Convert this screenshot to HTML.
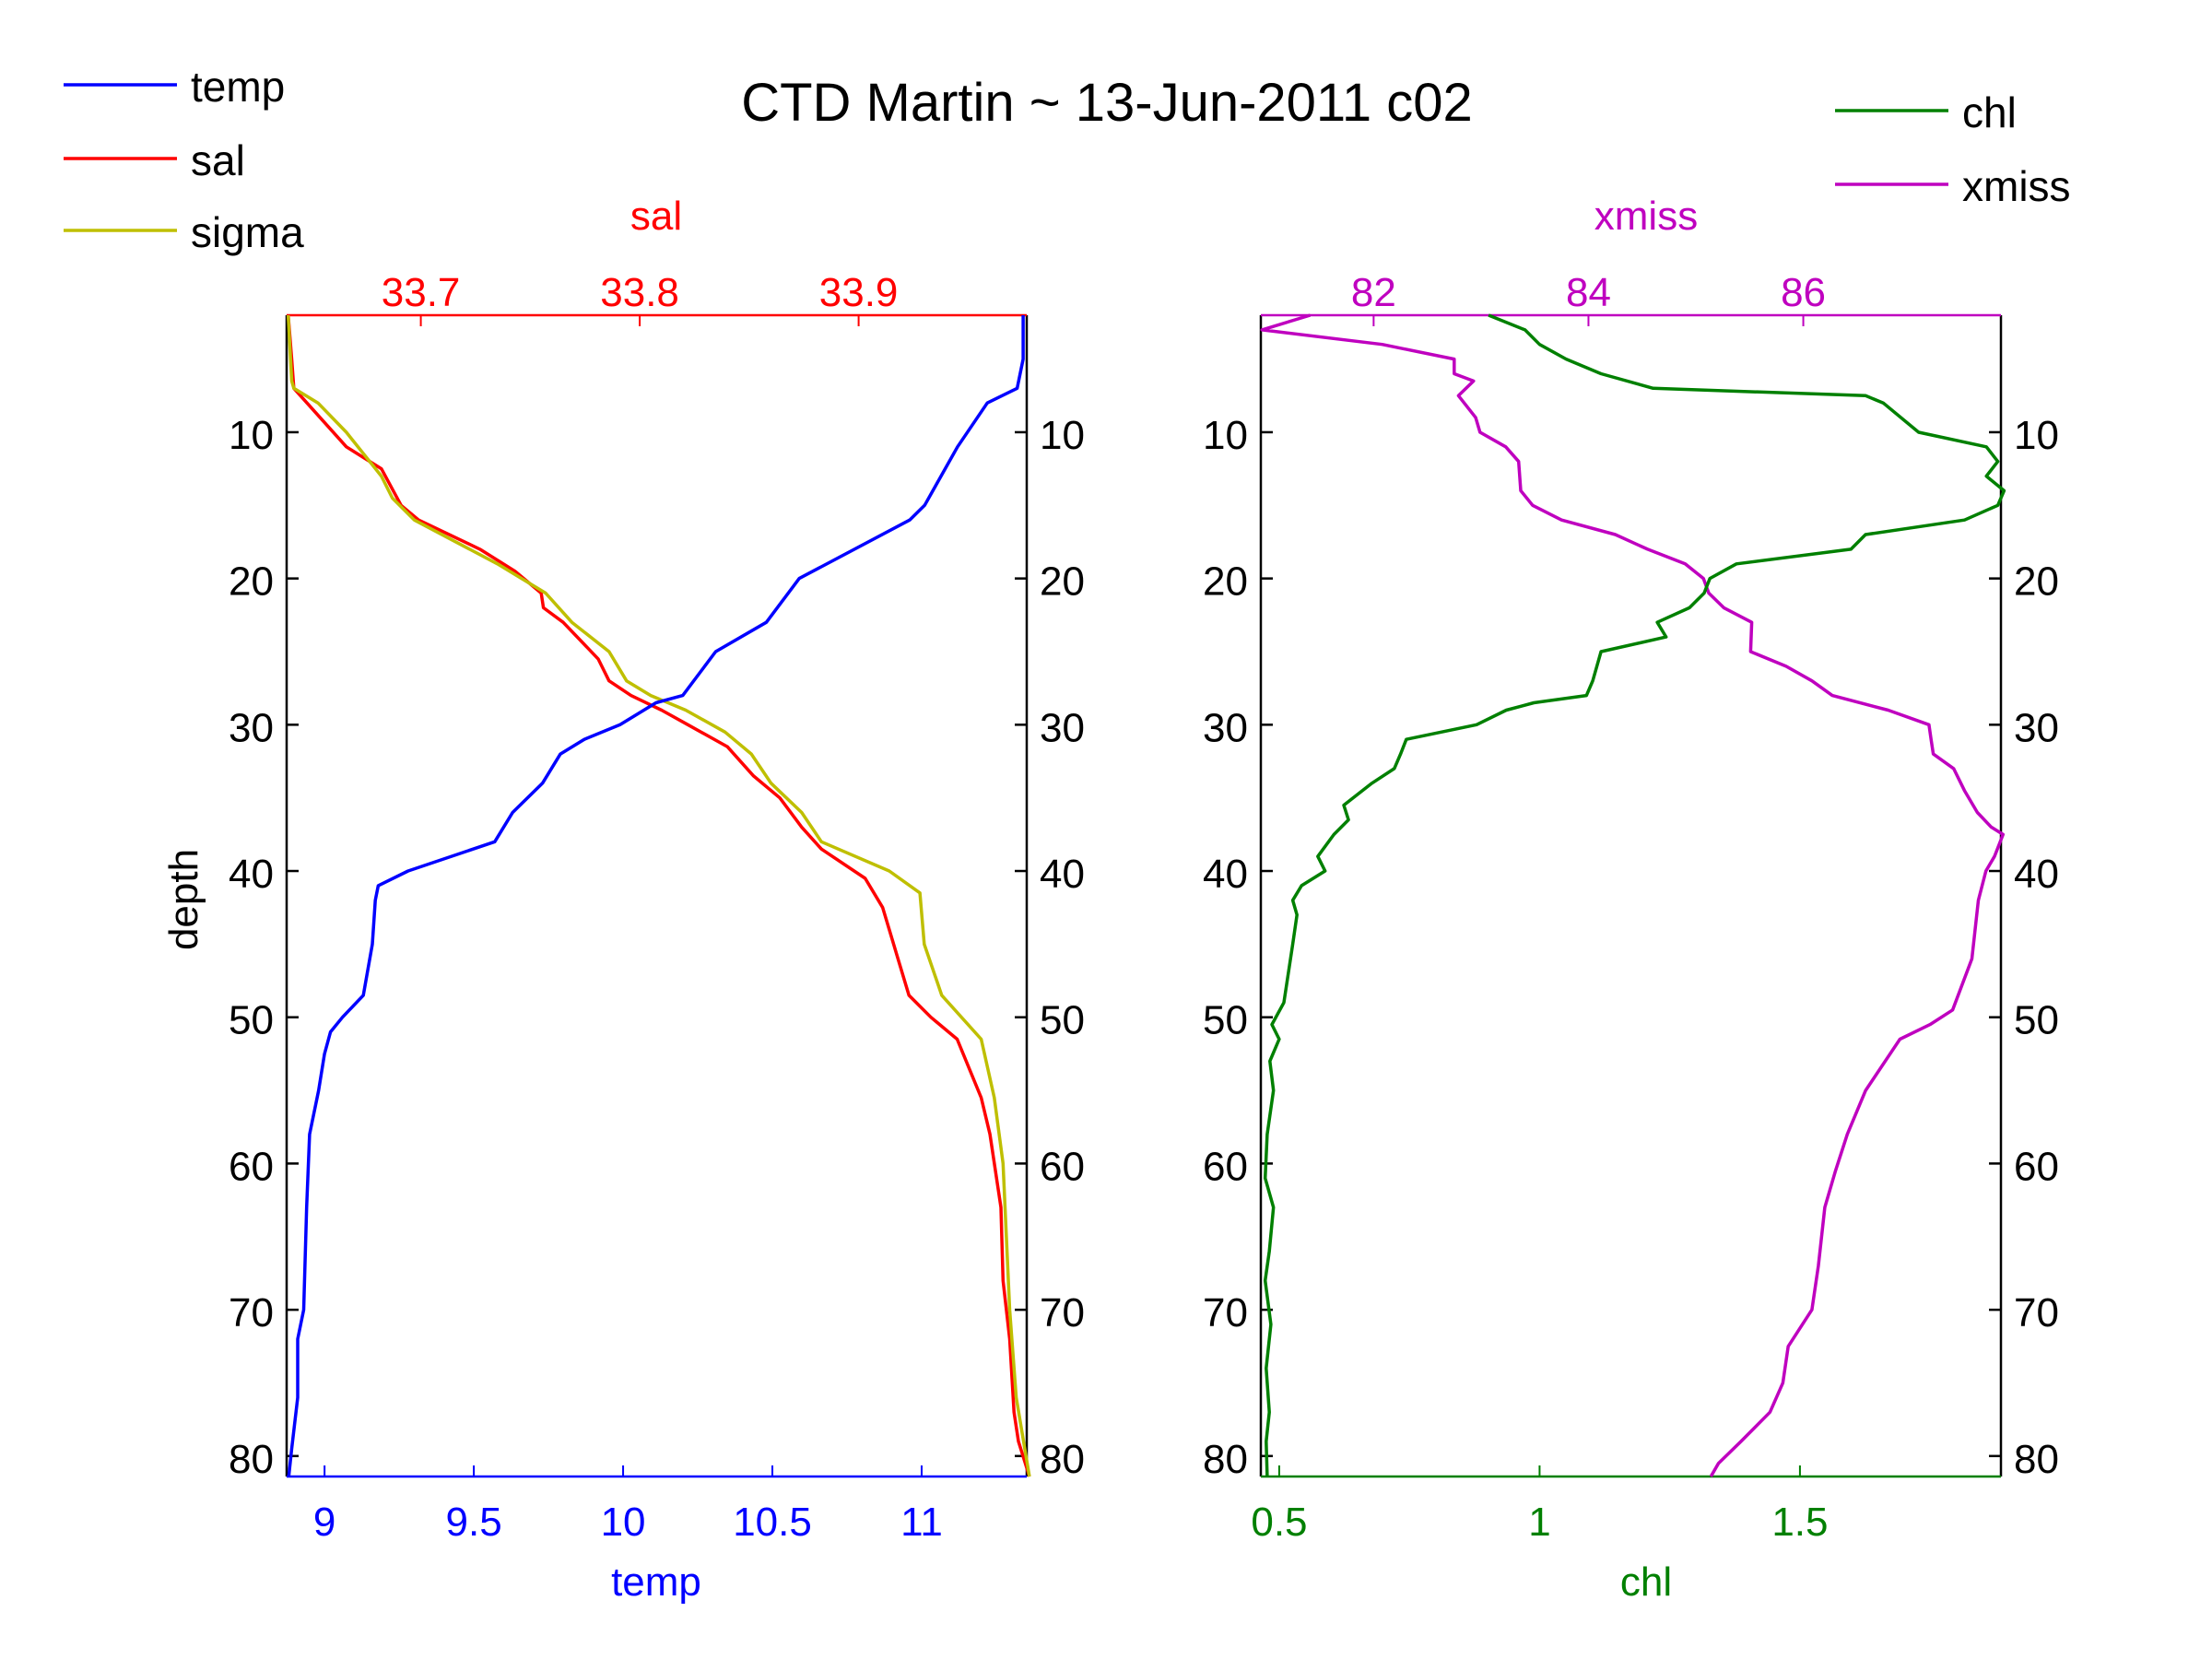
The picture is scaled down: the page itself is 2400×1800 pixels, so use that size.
<!DOCTYPE html>
<html><head><meta charset="utf-8"><style>
html,body{margin:0;padding:0;background:#fff}
svg{display:block;font-family:"Liberation Sans",Arial,sans-serif}
</style></head><body>
<svg id="chart" width="2400" height="1800" viewBox="0 0 2400 1800" xmlns="http://www.w3.org/2000/svg">
<rect width="2400" height="1800" fill="#fff"/>
<text x="1201" y="131" font-size="58" text-anchor="middle">CTD Martin ~ 13-Jun-2011 c02</text>
<g id="legend-left">
<line x1="69" y1="92" x2="192" y2="92" stroke="#0000ff" stroke-width="3.5"/>
<text x="207" y="110" font-size="46">temp</text>
<line x1="69" y1="172" x2="192" y2="172" stroke="#ff0000" stroke-width="3.5"/>
<text x="207" y="190" font-size="46">sal</text>
<line x1="69" y1="250" x2="192" y2="250" stroke="#bfbf00" stroke-width="3.5"/>
<text x="207" y="268" font-size="46">sigma</text>
</g>
<g id="legend-right">
<line x1="1991" y1="120" x2="2114" y2="120" stroke="#008000" stroke-width="3.5"/>
<text x="2129" y="138" font-size="46">chl</text>
<line x1="1991" y1="200" x2="2114" y2="200" stroke="#bf00bf" stroke-width="3.5"/>
<text x="2129" y="218" font-size="46">xmiss</text>
</g>
<text transform="translate(214,976) rotate(-90)" font-size="44" text-anchor="middle">depth</text>
<text x="712" y="249" font-size="44" text-anchor="middle" fill="#ff0000">sal</text>
<text x="1786" y="249" font-size="44" text-anchor="middle" fill="#bf00bf">xmiss</text>
<text x="712" y="1731" font-size="44" text-anchor="middle" fill="#0000ff">temp</text>
<text x="1786" y="1731" font-size="44" text-anchor="middle" fill="#008000">chl</text>
<g id="plots"></g>
</svg>
<script>
// shared depth axis
const depthDomain = [2, 81.4];
const depthTicks = [10, 20, 30, 40, 50, 60, 70, 80];
// left panel axes
const tempDomain = [8.873, 11.352];
const tempTicks = [9, 9.5, 10, 10.5, 11];
const tempTickLabels = ["9", "9.5", "10", "10.5", "11"];
const salDomain = [33.6387, 33.9768];
const salTicks = [33.7, 33.8, 33.9];
const salTickLabels = ["33.7", "33.8", "33.9"];
// right panel axes
const chlDomain = [0.4647, 1.886];
const chlTicks = [0.5, 1, 1.5];
const chlTickLabels = ["0.5", "1", "1.5"];
const xmissDomain = [80.95, 87.84];
const xmissTicks = [82, 84, 86];
const xmissTickLabels = ["82", "84", "86"];

// series
const tempDepth = [2,5,7,8,11,15,16,20,23,25,28,28.5,30,31,32,34,36,38,40,41,42,45,48.5,50,51,52.5,55,58,63,70,72,76,79.5,81.4];
const tempValues = [11.34,11.34,11.32,11.22,11.12,11.01,10.96,10.59,10.48,10.31,10.20,10.11,9.99,9.87,9.79,9.73,9.63,9.57,9.28,9.18,9.17,9.16,9.13,9.06,9.02,9.00,8.98,8.95,8.94,8.93,8.91,8.91,8.89,8.88];
const salDepth = [2,5,7,9,11,12.5,15,16,18,19.5,21,22,23,25.5,27,28,29,30,31.5,33.5,35,37,38.5,40.5,42.5,46,48.5,50,51.5,55.5,58,63,68,72,77,79,81.4];
const salValues = [33.6394,33.641,33.642,33.654,33.666,33.682,33.691,33.699,33.727,33.743,33.755,33.756,33.765,33.781,33.786,33.796,33.810,33.822,33.840,33.852,33.864,33.874,33.883,33.903,33.911,33.918,33.923,33.933,33.945,33.956,33.960,33.965,33.966,33.969,33.971,33.973,33.978];
// sigma plotted in sal-axis units (scaled to share the sal axis)
const sigmaDepth = [2,6.5,7,8,10,13,14.5,16,19,21,23,25,27,28,29,30.5,32,34,36,38,40,41.5,45,48.5,51.5,55.5,60,70,76,81.4];
const sigmaValues = [33.6394,33.641,33.642,33.653,33.666,33.682,33.687,33.697,33.735,33.757,33.769,33.786,33.794,33.805,33.821,33.839,33.851,33.860,33.874,33.883,33.914,33.928,33.930,33.938,33.956,33.962,33.966,33.969,33.972,33.978];
const chlDepth = [2,3,4,5,6,7,7.5,8,10,11,12,13,14,15,16,17,18,19,20,21,22,23,24,25,27,28,28.5,29,30,31,32,33,34,35.5,36.5,37.5,39,40,41,42,43,45,49,50.5,51.5,53,55,58,61,63,66,68,71,74,77,79,81.4];
const chlValues = [0.902,0.972,1.0,1.051,1.118,1.218,1.626,1.660,1.728,1.858,1.880,1.858,1.892,1.880,1.816,1.626,1.598,1.378,1.327,1.316,1.288,1.226,1.243,1.118,1.102,1.090,0.989,0.936,0.879,0.744,0.733,0.721,0.678,0.624,0.633,0.605,0.574,0.588,0.543,0.526,0.534,0.526,0.509,0.486,0.5,0.482,0.489,0.477,0.473,0.489,0.481,0.473,0.484,0.475,0.481,0.475,0.477];
const xmissDepth = [2,3,4,5,6,6.5,7.5,9,10,11,12,14,15,16,17,18,19,20,21,22,23,25,26,27,28,29,30,31,32,33,34.5,36,37,37.5,39,40,42,46,49.5,50.5,51.5,55,58,60.5,63,67,70,72.5,75,77,79,80.5,81.4];
const xmissValues = [81.41,80.96,82.08,82.75,82.75,82.93,82.79,82.95,82.99,83.23,83.35,83.37,83.48,83.75,84.25,84.55,84.90,85.07,85.12,85.26,85.52,85.51,85.84,86.08,86.27,86.79,87.17,87.19,87.21,87.40,87.50,87.62,87.75,87.86,87.78,87.70,87.63,87.57,87.39,87.18,86.90,86.58,86.41,86.30,86.20,86.14,86.08,85.86,85.81,85.69,85.42,85.21,85.14];

const NS = "http://www.w3.org/2000/svg";
const root = document.getElementById("plots");
const TOP = 342, BOT = 1602;
const yScale = d => TOP + (d - depthDomain[0]) / (depthDomain[1] - depthDomain[0]) * (BOT - TOP);
function xScaleFn(dom, x0, x1) { return v => x0 + (v - dom[0]) / (dom[1] - dom[0]) * (x1 - x0); }
function mk(tag, attrs, parent) {
  const e = document.createElementNS(NS, tag);
  for (const k in attrs) e.setAttribute(k, attrs[k]);
  (parent || root).appendChild(e);
  return e;
}
function series(xs, ys, sx, color, name) {
  let d = "";
  for (let i = 0; i < xs.length; i++) d += (i ? "L" : "M") + sx(xs[i]).toFixed(1) + "," + yScale(ys[i]).toFixed(1);
  const p = mk("path", {d: d, fill: "none", stroke: color, "stroke-width": 3.5, "stroke-linejoin": "round"});
  
  
}
function panel(x0, x1, bot, top, botColor, topColor, pname) {
  const sb = xScaleFn(bot.dom, x0, x1), st = xScaleFn(top.dom, x0, x1);
  // sides
  const l = mk("line", {x1: x0, y1: TOP, x2: x0, y2: BOT, stroke: "#000", "stroke-width": 2.5});
  
  
  const r = mk("line", {x1: x1, y1: TOP, x2: x1, y2: BOT, stroke: "#000", "stroke-width": 2.5});
  
  
  depthTicks.forEach(t => {
    const y = yScale(t);
    mk("line", {x1: x0, y1: y, x2: x0 + 13, y2: y, stroke: "#000", "stroke-width": 2.5});
    mk("line", {x1: x1, y1: y, x2: x1 - 13, y2: y, stroke: "#000", "stroke-width": 2.5});
    const a = mk("text", {x: x0 - 14, y: y + 18, "font-size": 44, "text-anchor": "end"});
    a.textContent = t;
    
    
    const b = mk("text", {x: x1 + 14, y: y + 18, "font-size": 44});
    b.textContent = t;
    
    
  });
  const bl = mk("line", {x1: x0, y1: BOT, x2: x1, y2: BOT, stroke: botColor, "stroke-width": 2.5});
  
  
  bot.ticks.forEach((t, i) => {
    const x = sb(t);
    mk("line", {x1: x, y1: BOT, x2: x, y2: BOT - 12, stroke: botColor, "stroke-width": 2});
    const tx = mk("text", {x: x, y: 1666, "font-size": 44, "text-anchor": "middle", fill: botColor});
    tx.textContent = bot.labels[i];
    
    
  });
  const tl = mk("line", {x1: x0, y1: TOP, x2: x1, y2: TOP, stroke: topColor, "stroke-width": 2.5});
  
  
  top.ticks.forEach((t, i) => {
    const x = st(t);
    mk("line", {x1: x, y1: TOP, x2: x, y2: TOP + 12, stroke: topColor, "stroke-width": 2});
    const tx = mk("text", {x: x, y: 332, "font-size": 44, "text-anchor": "middle", fill: topColor});
    tx.textContent = top.labels[i];
    
    
  });
  return {sb: sb, st: st};
}
const L = panel(311, 1114, {dom: tempDomain, ticks: tempTicks, labels: tempTickLabels}, {dom: salDomain, ticks: salTicks, labels: salTickLabels}, "#0000ff", "#ff0000", "left-panel");
series(salValues, salDepth, L.st, "#ff0000", "sal-line");
series(sigmaValues, sigmaDepth, L.st, "#bfbf00", "sigma-line");
series(tempValues, tempDepth, L.sb, "#0000ff", "temp-line");
const R = panel(1368, 2171, {dom: chlDomain, ticks: chlTicks, labels: chlTickLabels}, {dom: xmissDomain, ticks: xmissTicks, labels: xmissTickLabels}, "#008000", "#bf00bf", "right-panel");
series(xmissValues, xmissDepth, R.st, "#bf00bf", "xmiss-line");
series(chlValues, chlDepth, R.sb, "#008000", "chl-line");
</script>
</body></html>
